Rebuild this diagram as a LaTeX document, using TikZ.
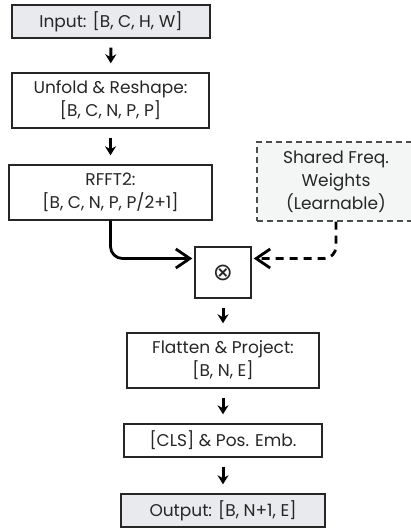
\documentclass[tikz,border=0pt]{standalone}
\usepackage{fontspec}
\setmainfont{Poppins}
\newfontfamily\symfont{DejaVu Sans}
\usetikzlibrary{arrows.meta}
\definecolor{boxgray}{HTML}{E8EAED}
\definecolor{wgray}{HTML}{F4F5F5}
\tikzset{
  stage/.style={draw=black!85, line width=1.4pt, align=center, text=black!85, font=\fontsize{17}{23}\selectfont, inner sep=0pt},
  io/.style={stage, fill=boxgray},
  step arrow/.style={-{Stealth[length=9pt,width=11pt]}, line width=3pt, shorten <=9pt, shorten >=9pt},
  merge arrow/.style={-{Straight Barb[length=14pt,width=19pt]}, line width=2.8pt, rounded corners=12pt, shorten >=2pt}
}
\begin{document}
\begin{tikzpicture}[x=1pt, y=-1pt]
\useasboundingbox (0,0) rectangle (411,529);
\clip (0,0) rectangle (411,529);

% main pipeline
\node[io, minimum width=198pt, minimum height=33pt] (in) at (111,21.5) {Input: [B, C, H, W]};
\node[stage, minimum width=197pt, minimum height=55pt] (unf) at (110.5,100.5) {Unfold \& Reshape:\\{}[B, C, N, P, P]};
\node[stage, minimum width=203pt, minimum height=55pt] (rfft) at (110.5,192.5) {RFFT2:\\{}[B, C, N, P, P/2+1]};
\node[stage, draw=black!70, fill=wgray, dashed, dash pattern=on 6pt off 4pt, minimum width=158pt, minimum height=79pt] (w) at (336,181.5) {Shared Freq.\\Weights\\(Learnable)};
\node[stage, minimum width=56pt, minimum height=51pt, font=\symfont\fontsize{24}{24}\selectfont] (mul) at (223,272.5) {⊗};
\node[stage, minimum width=192pt, minimum height=55pt] (flat) at (223,360.5) {Flatten \& Project:\\{}[B, N, E]};
\node[stage, minimum width=198pt, minimum height=33pt] (cls) at (223,440.5) {[CLS] \& Pos. Emb.};
\node[io, minimum width=204pt, minimum height=33pt] (out) at (223,510.5) {Output: [B, N+1, E]};

\draw[step arrow] (in) -- (unf);
\draw[step arrow] (unf) -- (rfft);
\draw[step arrow] (mul) -- (flat);
\draw[step arrow] (flat) -- (cls);
\draw[step arrow] (cls) -- (out);

% spectrum and weights meet at the product
\draw[merge arrow] (rfft.south) |- ([yshift=14pt]mul.west);
\draw[merge arrow, dash pattern=on 8pt off 6pt] (w.south) |- ([yshift=14pt]mul.east);
\end{tikzpicture}
\end{document}
